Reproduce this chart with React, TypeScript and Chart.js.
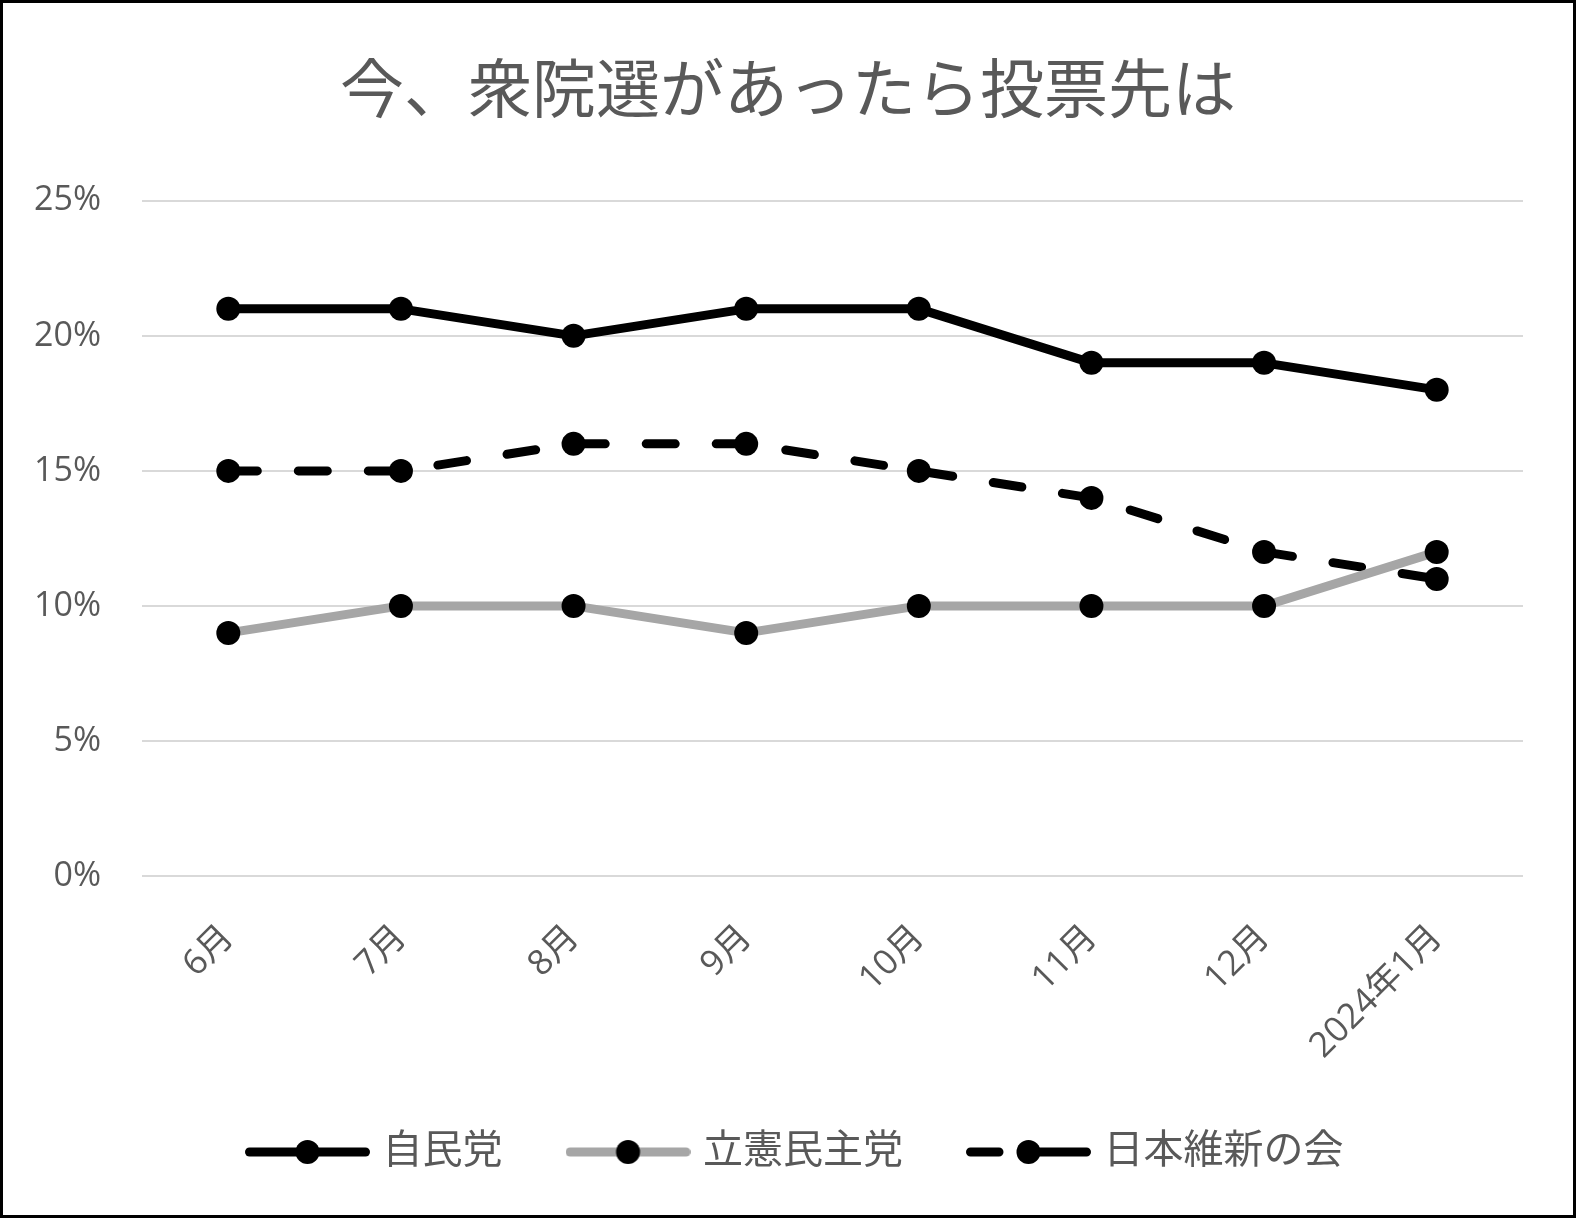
import React, { useEffect, useRef } from "react";
import { Chart, registerables } from "chart.js";

Chart.register(...registerables);

const chartTitle = "今、衆院選があったら投票先は";
const categories = ["6月", "7月", "8月", "9月", "10月", "11月", "12月", "2024年1月"];
const seriesNames = ["自民党", "立憲民主党", "日本維新の会"];
const jimin = [21, 21, 20, 21, 21, 19, 19, 18];
const rikken = [9, 10, 10, 9, 10, 10, 10, 12];
const ishin = [15, 15, 16, 16, 15, 14, 12, 11];
const yTicks = [0, 5, 10, 15, 20, 25];

const W = 1576;
const H = 1218;
const TEXT = "#595959";
const FONT = '"Open Sans", "Noto Sans CJK JP", sans-serif';
const LEGEND_SHIFT = 10;

function legendIcon(color: string, dashed: boolean) {
  const c = document.createElement("canvas");
  c.width = 125;
  c.height = 30;
  const ctx = c.getContext("2d")!;
  ctx.lineCap = "round";
  ctx.lineWidth = 9;
  ctx.strokeStyle = color;
  ctx.beginPath();
  if (dashed) {
    ctx.moveTo(4.5, 15);
    ctx.lineTo(33, 15);
    ctx.moveTo(62.5, 15);
    ctx.lineTo(120.5, 15);
  } else {
    ctx.moveTo(4.5, 15);
    ctx.lineTo(120.5, 15);
  }
  ctx.stroke();
  ctx.fillStyle = "#000";
  ctx.beginPath();
  ctx.arc(62.5, 15, 12, 0, Math.PI * 2);
  ctx.fill();
  return c;
}

const framePlugin = {
  id: "frame",
  afterLayout(chart: any) {
    if (chart.legend) {
      chart.legend.left += LEGEND_SHIFT;
      chart.legend.right += LEGEND_SHIFT;
    }
  },
  beforeDraw(chart: any) {
    const ctx = chart.ctx;
    ctx.save();
    ctx.fillStyle = "#fff";
    ctx.fillRect(0, 0, chart.width, chart.height);
    ctx.restore();
  },
  afterDraw(chart: any) {
    const ctx = chart.ctx;
    ctx.save();
    ctx.strokeStyle = "#000";
    ctx.lineWidth = 3;
    ctx.strokeRect(1.5, 1.5, chart.width - 3, chart.height - 3);
    ctx.restore();
  },
};

export default function App() {
  const ref = useRef<HTMLCanvasElement | null>(null);

  useEffect(() => {
    if (!ref.current) return;
    const icons = [legendIcon("#000", false), legendIcon("#a6a6a6", false), legendIcon("#000", true)];
    const common = {
      borderWidth: 9,
      pointRadius: 12,
      pointBackgroundColor: "#000",
      pointBorderWidth: 0,
      borderCapStyle: "round",
      borderJoinStyle: "round",
    };
    const chart = new Chart(ref.current, {
      type: "line",
      data: {
        labels: categories,
        datasets: [
          { label: seriesNames[0], data: jimin, borderColor: "#000", ...common },
          { label: seriesNames[1], data: rikken, borderColor: "#a6a6a6", ...common },
          { label: seriesNames[2], data: ishin, borderColor: "#000", borderDash: [29, 41], ...common },
        ] as any,
      },
      options: {
        responsive: false,
        animation: false,
        layout: { padding: { left: 0, right: 0, top: 0, bottom: 36 } },
        scales: {
          x: {
            offset: true,
            grid: { display: false, drawTicks: false },
            border: { display: false },
            ticks: {
              autoSkip: false,
              maxRotation: 45,
              minRotation: 45,
              color: TEXT,
              padding: 41,
              font: { family: FONT, size: 35 },
            },
            afterFit(s: any) {
              s.height = 185.5;
            },
          },
          y: {
            min: 0,
            max: 25,
            grid: { color: "#d9d9d9", lineWidth: 2, drawTicks: false },
            border: { display: false },
            ticks: {
              color: TEXT,
              padding: 41,
              font: { family: FONT, size: 34 },
              callback: (v: any) => v + "%",
            },
            afterBuildTicks(s: any) {
              s.ticks = yTicks.map((v) => ({ value: v }));
            },
            afterFit(s: any) {
              s.width = 142;
            },
          },
          y2: {
            position: "right",
            display: true,
            grid: { display: false, drawTicks: false },
            border: { display: false },
            ticks: { display: false },
            afterFit(s: any) {
              s.width = 53;
            },
          },
        },
        plugins: {
          title: {
            display: true,
            text: chartTitle,
            color: TEXT,
            font: { family: FONT, size: 64, weight: "normal" },
            padding: { top: 55, bottom: 69 },
          },
          legend: {
            position: "bottom",
            labels: {
              usePointStyle: true,
              pointStyleWidth: 110,
              padding: 70.5,
              color: TEXT,
              font: { family: FONT, size: 40 },
              generateLabels: (chart: any) =>
                chart.data.datasets.map((d: any, i: number) => ({
                  text: d.label,
                  pointStyle: icons[i],
                  fillStyle: "#000",
                  strokeStyle: "#000",
                  lineWidth: 0,
                  hidden: false,
                  datasetIndex: i,
                  fontColor: TEXT,
                })),
            },
          },
          tooltip: { enabled: false },
        },
      },
      plugins: [framePlugin],
    });
    return () => chart.destroy();
  }, []);

  return (
    <div style={{ position: "absolute", left: 0, top: 0, width: W, height: H }}>
      <canvas ref={ref} width={W} height={H} style={{ width: W, height: H, display: "block" }} />
    </div>
  );
}
